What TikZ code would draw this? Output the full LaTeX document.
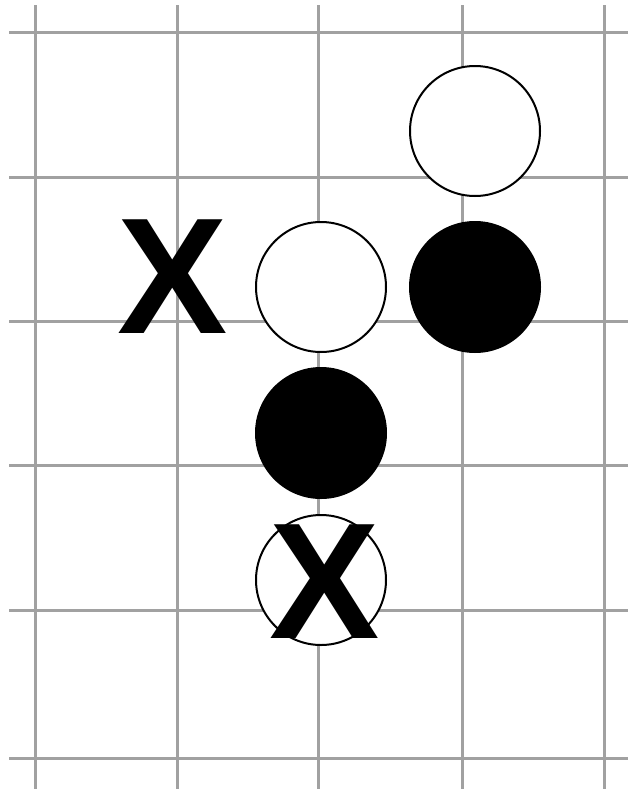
\documentclass[tikz,border=0pt]{standalone}
\usepackage{fontspec}
\setmainfont{Liberation Sans}
\usetikzlibrary{positioning}

\begin{document}
\begin{tikzpicture}[x=0.75pt,y=-0.75pt,
 gridline/.style={draw=black!37,line width=2.25pt},
 stone/.style={circle,minimum size=97.5pt,inner sep=0pt,line width=1.5pt,draw=black},
 whitestone/.style={stone,fill=white},
 blackstone/.style={stone,fill=black},
 xmark/.style={inner sep=0pt,font=\fontsize{124}{124}\selectfont\bfseries}]
\useasboundingbox (0,0) rectangle (628,789);
% board
\foreach \gx in {35,177,318,462,604}
  \draw[gridline] (\gx,5) -- (\gx,789);
\foreach \gy in {32,177,321,465,610,758}
  \draw[gridline] (9,\gy) -- (628,\gy);
% stones
\node[whitestone] (wtop) at (475,131) {};
\node[blackstone] (bright) at (475,287) {};
\node[whitestone] (wmid) at (321,287) {};
\node[blackstone] (bmid) at (321,433) {};
\node[whitestone] (wlow) at (321,580) {};
% marks
\node[xmark] (xleft) at (173,277) {X};
\node[xmark] (xlow) at (325,582) {X};
\end{tikzpicture}
\end{document}
